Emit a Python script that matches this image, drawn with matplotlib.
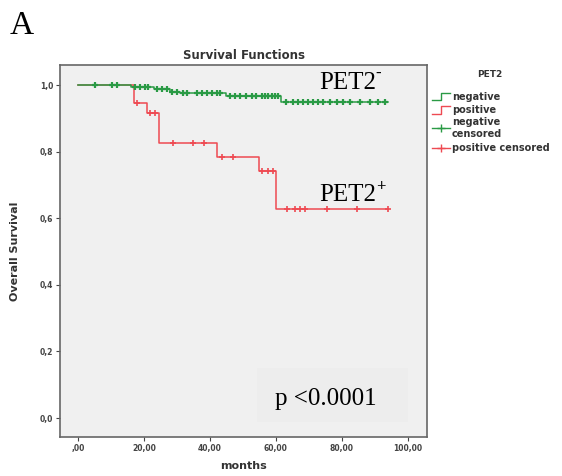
import matplotlib
matplotlib.use("Agg")
import matplotlib.pyplot as plt
from matplotlib.lines import Line2D
from matplotlib.patches import Rectangle

# --- data ---
neg_step_times = [0, 16, 23, 28, 31, 45, 61.5, 94]
neg_step_surv = [1.0, 0.993, 0.987, 0.980, 0.975, 0.967, 0.948, 0.948]
neg_cens_times = [5.2, 10.2, 11.7, 17.3, 18.8, 20.3, 21.3, 23.8, 25.4, 26.9, 28.4, 29.9,
                  31.9, 32.9, 36, 37.5, 39, 40.5, 42, 43, 46, 47.6, 49, 51, 52.6, 54.1,
                  55.7, 56.7, 57.7, 58.7, 59.7, 60.7, 63.2, 65.2, 66.8, 68.3, 69.8, 71.3,
                  72.8, 74.3, 76.4, 78.4, 80.4, 82.4, 85.5, 88.5, 91, 93]

pos_step_times = [0, 17, 20.8, 24.5, 42, 55, 60, 94]
pos_step_surv = [1.0, 0.945, 0.915, 0.825, 0.783, 0.742, 0.627, 0.627]
pos_cens_times = [18, 21.8, 23.3, 28.8, 34.8, 38.2, 43.6, 47, 55.7, 57.7, 59.2,
                  63.3, 65.8, 67.3, 68.8, 75.5, 84.5, 94]

xticks = [0, 20, 40, 60, 80, 100]
xticklabels = [",00", "20,00", "40,00", "60,00", "80,00", "100,00"]
yticks = [0.0, 0.2, 0.4, 0.6, 0.8, 1.0]
yticklabels = ["0,0", "0,2", "0,4", "0,6", "0,8", "1,0"]

green = "#2a9a45"
red = "#ee4a52"
serif = "Liberation Serif"


def surv_at(times, levels, t):
    s = levels[0]
    for ti, li in zip(times, levels):
        if ti <= t:
            s = li
    return s


fig = plt.figure(figsize=(5.62, 4.76), dpi=100)
fig.patch.set_facecolor("white")
ax = fig.add_axes([0.1068, 0.0819, 0.653, 0.7815])
ax.set_facecolor("#f0f0f0")

ax.step(pos_step_times, pos_step_surv, where="post", color=red, lw=1.1, zorder=2)
ax.step(neg_step_times, neg_step_surv, where="post", color=green, lw=1.1, zorder=3)
ax.plot(pos_cens_times, [surv_at(pos_step_times, pos_step_surv, t) for t in pos_cens_times],
        ls="none", marker="+", ms=4, mew=1.2, color=red, zorder=2)
ax.plot(neg_cens_times, [surv_at(neg_step_times, neg_step_surv, t) for t in neg_cens_times],
        ls="none", marker="+", ms=4, mew=1.6, color=green, zorder=3)

ax.set_xlim(-5.45, 105.8)
ax.set_ylim(-0.057, 1.06)
ax.set_xticks(xticks)
ax.set_xticklabels(xticklabels, fontsize=5.5, fontweight="bold", color="#222222")
ax.set_yticks(yticks)
ax.set_yticklabels(yticklabels, fontsize=5.5, fontweight="bold", color="#222222")
ax.tick_params(direction="out", length=3, width=0.8, colors="#444444", pad=2)
for sp in ax.spines.values():
    sp.set_color("#666666")
    sp.set_linewidth(1.2)

ax.set_xlabel("months", fontsize=8, fontweight="bold", color="#333333", labelpad=6)
ax.set_ylabel("Overall Survival", fontsize=8, fontweight="bold", color="#333333", labelpad=14)
ax.set_title("Survival Functions", fontsize=8.5, fontweight="bold", color="#333333", pad=4)

# annotations
t1 = ax.text(73, 1.005, "PET2", fontsize=18, family=serif, ha="left", va="center")
ax.annotate("-", xy=(1.0, 0.55), xycoords=t1, fontsize=12, family=serif,
            ha="left", va="bottom", fontweight="bold")
t2 = ax.text(73, 0.67, "PET2", fontsize=18, family=serif, ha="left", va="center")
ax.annotate("+", xy=(1.0, 0.50), xycoords=t2, fontsize=12, family=serif,
            ha="left", va="bottom", fontweight="bold")
# subtle lighter box behind p-value
ax.add_patch(Rectangle((0.538, 0.041), 0.411, 0.145, transform=ax.transAxes,
                       fc="#ededed", ec="none", zorder=0.5))
ax.text(0.586, 0.102, "p <0.0001", transform=ax.transAxes, fontsize=18, family=serif,
        ha="left", va="center")

fig.text(0.018, 0.945, "A", fontsize=24, family=serif, ha="left", va="center")

# legend (manual)
fig.text(0.872, 0.843, "PET2", fontsize=6.5, fontweight="bold", color="#333333", ha="center", va="center")
lx0, lx1 = 0.768, 0.800
tx = 0.804
fs = 7


def step_icon(y, color):
    fig.add_artist(Line2D([lx0, lx0 + 0.016, lx0 + 0.016, lx1], [y - 0.008, y - 0.008, y + 0.008, y + 0.008],
                          transform=fig.transFigure, color=color, lw=1.0))


def plus_icon(y, color):
    fig.add_artist(Line2D([lx0, lx1], [y, y], transform=fig.transFigure, color=color, lw=1.0))
    fig.add_artist(Line2D([(lx0 + lx1) / 2], [y], transform=fig.transFigure, color=color,
                          marker="+", ms=6, mew=1.0, ls="none"))


step_icon(0.797, green)
fig.text(tx, 0.797, "negative", fontsize=fs, fontweight="bold", color="#333333", va="center")
step_icon(0.769, red)
fig.text(tx, 0.769, "positive", fontsize=fs, fontweight="bold", color="#333333", va="center")
plus_icon(0.732, green)
fig.text(tx, 0.744, "negative", fontsize=fs, fontweight="bold", color="#333333", va="center")
fig.text(tx, 0.719, "censored", fontsize=fs, fontweight="bold", color="#333333", va="center")
plus_icon(0.690, red)
fig.text(tx, 0.690, "positive censored", fontsize=fs, fontweight="bold", color="#333333", va="center")

fig.savefig("out.png", dpi=100)
